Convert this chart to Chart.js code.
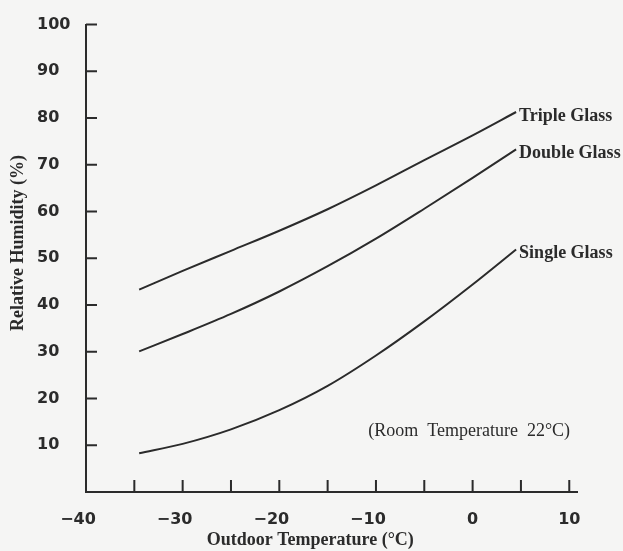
<!DOCTYPE html>
<html>
<head>
<meta charset="utf-8">
<script src="https://cdn.jsdelivr.net/npm/chart.js@4/dist/chart.umd.min.js"></script>
<style>
  html, body { margin: 0; padding: 0; background: #f5f5f4; }
  #wrap { width: 623px; height: 551px; position: relative; }
</style>
</head>
<body>
<div id="wrap"><canvas id="grafica"></canvas></div>
<script>
// outdoor temperature (°C) where the curves were read
const temps = [-34.5, -30, -25, -20, -15, -10, -5, 0, 4.5];
// relative humidity (%) at which condensation starts
const triple = [43.3, 47.3, 51.6, 55.9, 60.5, 65.6, 71.0, 76.3, 81.3];
const double = [30.1, 33.8, 38.1, 42.9, 48.3, 54.2, 60.6, 67.2, 73.3];
const single = [8.3, 10.3, 13.4, 17.5, 22.7, 29.2, 36.5, 44.4, 51.9];
const seriesNames = ['Triple Glass', 'Double Glass', 'Single Glass'];

const xLabels = [-40, -30, -20, -10, 0, 10];
const xMarks = [-35, -30, -25, -20, -15, -10, -5, 0, 5, 10];
const yTicks = [10, 20, 30, 40, 50, 60, 70, 80, 90, 100];

const ink = '#2b2b2b';

function puntos(valores) {
	return temps.map(function (t, i) { return { x: t, y: valores[i] }; });
}

// inward tick marks, curve labels and titles
const adornos = {
	id: 'adornos',
	afterDraw(chart) {
		const ctx = chart.ctx;
		const x = chart.scales.x;
		const y = chart.scales.y;
		const y0 = y.getPixelForValue(0);
		const x0 = x.getPixelForValue(-40);

		ctx.save();
		ctx.strokeStyle = ink;
		ctx.lineWidth = 2;
		ctx.beginPath();
		xMarks.forEach(function (v) {
			const px = x.getPixelForValue(v);
			ctx.moveTo(px, y0);
			ctx.lineTo(px, y0 - 12);
		});
		yTicks.forEach(function (v) {
			const py = y.getPixelForValue(v);
			ctx.moveTo(x0, py);
			ctx.lineTo(x0 + 11, py);
		});
		ctx.stroke();

		ctx.fillStyle = ink;
		ctx.textBaseline = 'middle';
		ctx.textAlign = 'left';
		ctx.font = 'bold 18px "Liberation Serif"';
		chart.data.datasets.forEach(function (ds, i) {
			const meta = chart.getDatasetMeta(i);
			const p = meta.data[meta.data.length - 1];
			ctx.fillText(ds.label, p.x + 3, p.y + 4);
		});

		ctx.font = '18px "Liberation Serif"';
		ctx.fillText('(Room  Temperature  22°C)', x.getPixelForValue(-10.8), y.getPixelForValue(13));

		ctx.font = 'bold 18px "Liberation Serif"';
		ctx.textAlign = 'center';
		ctx.fillText('Outdoor Temperature (°C)', x.getPixelForValue(-16.8), 540);

		ctx.translate(18, 243);
		ctx.rotate(-Math.PI / 2);
		ctx.fillText('Relative Humidity (%)', 0, 0);
		ctx.restore();
	}
};

const ctx = document.getElementById('grafica').getContext('2d');
new Chart(ctx, {
	type: 'line',
	data: {
		datasets: [
			{ label: seriesNames[0], data: puntos(triple) },
			{ label: seriesNames[1], data: puntos(double) },
			{ label: seriesNames[2], data: puntos(single) }
		].map(function (d) {
			return Object.assign(d, {
				borderColor: ink,
				borderWidth: 2,
				pointRadius: 0,
				cubicInterpolationMode: 'monotone',
				fill: false
			});
		})
	},
	options: {
		responsive: true,
		maintainAspectRatio: false,
		animation: false,
		layout: { padding: { left: 37, top: 14, right: 46, bottom: 0 } },
		plugins: {
			legend: { display: false },
			tooltip: { enabled: false }
		},
		scales: {
			x: {
				type: 'linear',
				min: -40,
				max: 10.8,
				grid: { display: false, drawTicks: false },
				border: { display: true, color: ink, width: 2 },
				ticks: {
					color: ink,
					padding: 18,
					font: { family: 'DejaVu Sans', weight: 'bold', size: 16 },
					callback: function (v) {
						return v < 0 ? '\u2212' + Math.abs(v) + '\u2003' : String(v);
					}
				},
				afterBuildTicks: function (scale) {
					scale.ticks = xLabels.map(function (v) { return { value: v }; });
				},
				afterFit: function (scale) { scale.height = 59; }
			},
			y: {
				min: 0,
				max: 100,
				grid: { display: false, drawTicks: false },
				border: { display: true, color: ink, width: 2 },
				ticks: {
					color: ink,
					padding: 15,
					crossAlign: 'far',
					font: { family: 'DejaVu Sans', weight: 'bold', size: 16 }
				},
				afterBuildTicks: function (scale) {
					scale.ticks = yTicks.map(function (v) { return { value: v }; });
				},
				afterFit: function (scale) { scale.width = 49; }
			}
		}
	},
	plugins: [adornos]
});
</script>
</body>
</html>
